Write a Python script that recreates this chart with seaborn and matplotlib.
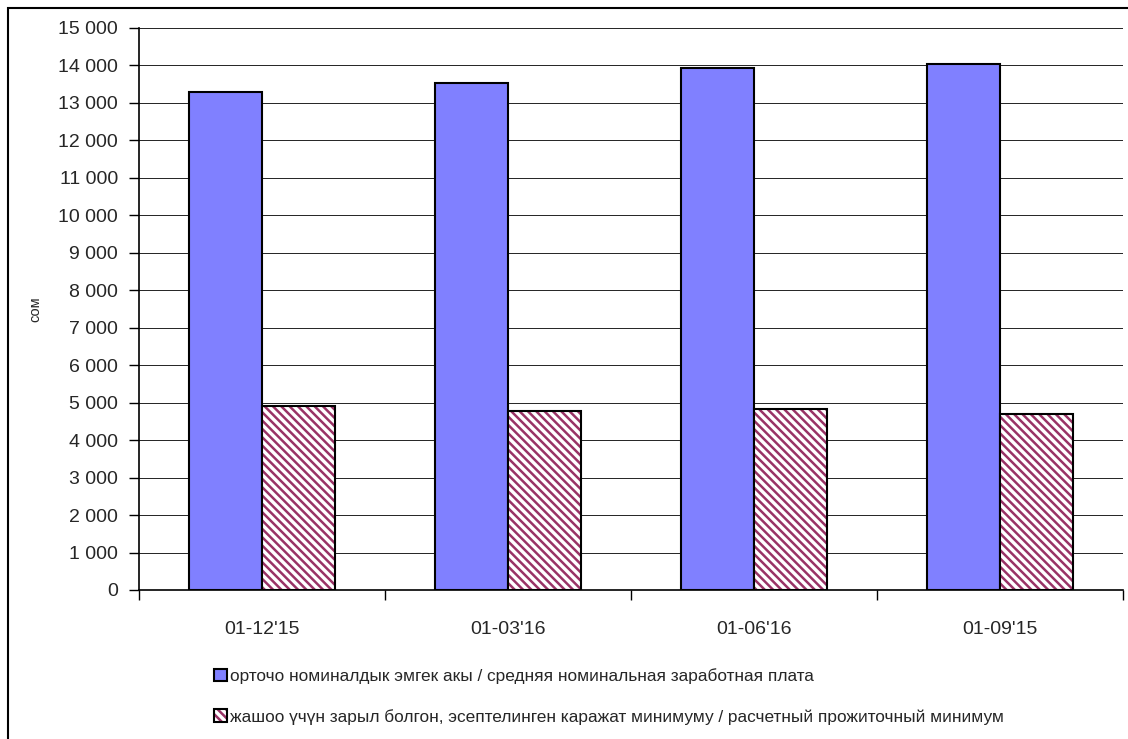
import numpy as np
import pandas as pd
import matplotlib
matplotlib.use("Agg")
import matplotlib.pyplot as plt
import seaborn as sns
from matplotlib.patches import Patch, Rectangle
from matplotlib.ticker import FuncFormatter, FixedLocator

periods = ["01-12'15", "01-03'16", "01-06'16", "01-09'15"]
series_names = ["орточо номиналдык эмгек акы / средняя номинальная заработная плата",
                "жашоо үчүн зарыл болгон, эсептелинген каражат минимуму / расчетный прожиточный минимум"]
avg_wage = [13300, 13530, 13940, 14030]
living_min = [4910, 4780, 4830, 4700]

blue = "#8080FF"
plum = "#993366"

sns.set_style("white")
plt.rcParams['font.family'] = ['Liberation Sans', 'DejaVu Sans']
plt.rcParams['hatch.linewidth'] = 1.8

data_frame = pd.DataFrame({
    'period': periods * 2,
    'value': avg_wage + living_min,
    'series': [series_names[0]] * 4 + [series_names[1]] * 4,
})

fig = plt.figure(figsize=(11.28, 7.39), dpi=100)
ax = fig.add_axes([139 / 1128, 1 - 590 / 739, (1123 - 139) / 1128, (590 - 28) / 739])

sns.barplot(data=data_frame, x='period', y='value', hue='series', hue_order=series_names,
            palette=[blue, 'white'], width=0.59, edgecolor='black', linewidth=1.5,
            saturation=1, legend=False, ax=ax, zorder=3)

# hatched series: purple stripes, black border on top
for bar in ax.containers[1]:
    bar.set_hatch('\\\\\\\\')
    bar.set_edgecolor(plum)
    bar.set_linewidth(0)
    ax.add_patch(Rectangle(bar.get_xy(), bar.get_width(), bar.get_height(),
                           fill=False, edgecolor='black', linewidth=1.5, zorder=4))

ax.set_ylim(0, 15000)
ax.set_xlim(-0.5, 3.5)
ax.set_yticks(np.arange(0, 15001, 1000))
ax.yaxis.set_major_formatter(FuncFormatter(lambda v, p: f"{int(v):,}".replace(",", " ")))
ax.yaxis.grid(True, color='black', linewidth=0.6, zorder=0)
ax.set_axisbelow(True)
ax.tick_params(axis='y', direction='out', length=7, width=1, pad=8, labelsize=14, left=True, color='black')
ax.tick_params(axis='x', which='major', length=0, pad=22, labelsize=14)
ax.xaxis.set_minor_locator(FixedLocator([-0.5, 0.5, 1.5, 2.5, 3.5]))
ax.tick_params(axis='x', which='minor', direction='out', length=7, width=1, bottom=True, color='black')

for side in ['top', 'right']:
    ax.spines[side].set_visible(False)
for side in ['left', 'bottom']:
    ax.spines[side].set_color('black')
    ax.spines[side].set_linewidth(1.2)

ax.set_xlabel('')
ax.set_ylabel('сом', fontsize=10.5, labelpad=0)
ax.yaxis.set_label_coords(-0.098, 0.5)

legend_handles = [
    Patch(facecolor=blue, edgecolor='black', linewidth=1.5),
    (Patch(facecolor='white', edgecolor=plum, hatch='\\\\\\\\', linewidth=0),
     Patch(facecolor='none', edgecolor='black', linewidth=1.5)),
]
fig.legend(legend_handles, series_names, loc='upper left',
           bbox_to_anchor=(214 / 1128, 1 - 668 / 739), frameon=False, fontsize=12.4,
           handlelength=0.75, handleheight=0.75, handletextpad=0.2,
           labelspacing=1.45, borderpad=0, borderaxespad=0)

# outer frame of the chart object
fig.patches.append(Rectangle((8 / 1128, -0.2), 1.2, 1.2 - 8 / 739,
                             transform=fig.transFigure, fill=False,
                             edgecolor='black', linewidth=1.5))

fig.savefig('out.png', dpi=100)
